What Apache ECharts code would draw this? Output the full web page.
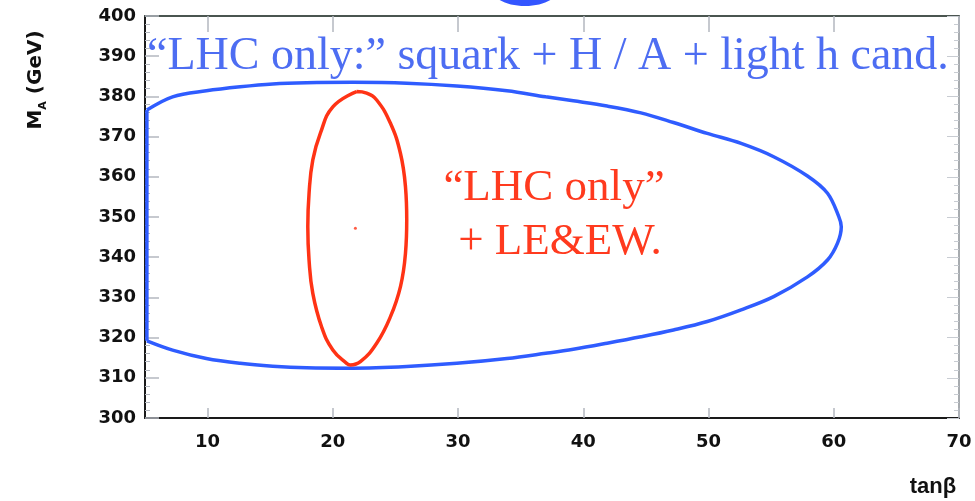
<!DOCTYPE html>
<html>
<head>
<meta charset="utf-8">
<script src="https://cdn.jsdelivr.net/npm/echarts@6/dist/echarts.min.js"></script>
<style>html,body{margin:0;padding:0;background:#fff}#c{width:975px;height:501px}</style>
</head>
<body>
<div id="c"></div>
<script>
// tick labels
var xTicks = [10, 20, 30, 40, 50, 60, 70];
// "LHC only:" squark + H/A + light h candidate contour  [tanβ, M_A] (open curve)
var lhcContour = [
  [5.15,376.6],[7.2,379.9],[9.9,381.4],[12.6,382.4],[15.2,383.1],[17.9,383.4],[21.6,383.5],
  [25.9,383.3],[29.9,382.6],[33.9,381.4],[37.0,379.9],[39.2,378.9],[41.9,377.6],[44.6,375.9],
  [47.2,373.5],[49.9,370.8],[52.6,368.3],[55.2,365.0],[57.9,360.2],[59.5,355.9],[60.4,350.1],
  [60.6,347.6],[60.3,343.5],[59.5,339.3],[57.9,335.1],[55.2,330.2],[52.6,326.9],[49.9,324.0],
  [47.2,321.9],[44.6,320.2],[41.9,318.6],[39.2,317.1],[37.0,316.1],[33.9,314.8],[29.9,313.6],
  [25.9,312.8],[21.6,312.4],[17.9,312.5],[15.2,312.9],[12.6,313.6],[9.9,314.8],[7.2,316.9],
  [5.15,319.2]
];
// part of that contour lying on the tanβ = 5 edge
var lhcEdge = [[5.15,319.2],[5.15,376.6]];
// "LHC only" + LE&EW contour  [tanβ, M_A]
var lhcEwContour = [
  [21.9,381.2],[20.0,377.4],[19.0,370.8],[18.4,364.2],[18.1,355.9],[18.0,347.6],[18.1,339.3],
  [18.4,331.0],[19.1,322.7],[20.0,316.9],[21.1,313.6],[21.4,313.2],[22.2,314.0],[23.5,318.6],
  [24.6,325.2],[25.4,332.7],[25.8,341.0],[25.9,349.3],[25.8,357.5],[25.4,365.8],[24.6,373.3],
  [23.5,379.1],[22.7,380.8],[21.9,381.2]
];
var bestFit = [[21.8, 347.2]];

var chart = echarts.init(document.getElementById('c'), null, {renderer: 'canvas'});
var tickGrey = '#b4b8c0';
var labelFont = {fontFamily: 'DejaVu Sans', fontWeight: 'bold', fontSize: 18, color: '#111'};
chart.setOption({
  backgroundColor: '#fff',
  animation: false,
  grid: {left: 145, right: 16, top: 16, bottom: 83},
  xAxis: [{
    type: 'value', min: 5, max: 70, position: 'bottom',
    axisLine: {show: true, lineStyle: {color: '#1a1a1a', width: 2}},
    axisTick: {show: true, inside: true, length: 10, customValues: xTicks, lineStyle: {color: tickGrey, width: 1.5}},
    axisLabel: Object.assign({show: true, margin: 15, customValues: xTicks}, labelFont),
    splitLine: {show: false}
  }, {
    type: 'value', min: 5, max: 70, position: 'top',
    axisLine: {show: true, lineStyle: {color: '#4a5550', width: 2}},
    axisTick: {show: true, inside: true, length: 16, customValues: xTicks, lineStyle: {color: tickGrey, width: 1.5}},
    axisLabel: {show: false},
    splitLine: {show: false}
  }],
  yAxis: [{
    type: 'value', min: 300, max: 400, interval: 10, position: 'left',
    axisLine: {show: true, lineStyle: {color: '#1a1a1a', width: 2}},
    axisTick: {show: true, inside: true, length: 14, lineStyle: {color: tickGrey, width: 1.5}},
    minorTick: {show: true, splitNumber: 5, length: 5, lineStyle: {color: tickGrey, width: 1}},
    axisLabel: Object.assign({show: true, margin: 9}, labelFont),
    splitLine: {show: false}
  }, {
    type: 'value', min: 300, max: 400, interval: 10, position: 'right',
    axisLine: {show: true, lineStyle: {color: '#8a8f94', width: 1.5}},
    axisTick: {show: true, inside: true, length: 12, lineStyle: {color: '#c8ccd2', width: 1}},
    minorTick: {show: true, splitNumber: 5, length: 5, lineStyle: {color: '#c8ccd2', width: 1}},
    axisLabel: {show: false},
    splitLine: {show: false}
  }],
  series: [{
    name: 'LHC only', type: 'line', data: lhcContour, xAxisIndex: 0, yAxisIndex: 0,
    showSymbol: false, smooth: 0.35, clip: false,
    lineStyle: {color: '#2f5cff', width: 3.5}
  }, {
    name: 'LHC only edge', type: 'line', data: lhcEdge, xAxisIndex: 0, yAxisIndex: 0,
    showSymbol: false, clip: false,
    lineStyle: {color: '#2f5cff', width: 3.5}
  }, {
    name: 'LHC only + LE&EW', type: 'line', data: lhcEwContour, xAxisIndex: 0, yAxisIndex: 0,
    showSymbol: false, smooth: 0.45,
    lineStyle: {color: '#ff3315', width: 3.5}
  }, {
    name: 'best fit', type: 'scatter', data: bestFit, symbolSize: 3,
    itemStyle: {color: '#ff3315'}
  }],
  graphic: [
    {type: 'ellipse', shape: {cx: 525, cy: -12, rx: 34, ry: 18}, style: {fill: '#3355ff'}, silent: true},
    {type: 'text', x: 147, y: 57, style: {
      text: '\u201cLHC only:\u201d squark + H / A + light h cand.',
      font: '46px "Liberation Serif"', fill: '#4d6df2', textAlign: 'left', textVerticalAlign: 'middle'}},
    {type: 'text', x: 554, y: 188, style: {
      text: '\u201cLHC only\u201d', font: '45px "Liberation Serif"', fill: '#ff3a1e',
      textAlign: 'center', textVerticalAlign: 'middle'}},
    {type: 'text', x: 560, y: 242, style: {
      text: '+ LE&EW.', font: '45px "Liberation Serif"', fill: '#ff3a1e',
      textAlign: 'center', textVerticalAlign: 'middle'}},
    {type: 'text', x: 36, y: 80, rotation: Math.PI / 2, style: {
      text: '{a|M}{b|A}{a| (GeV)}', textAlign: 'center', textVerticalAlign: 'middle',
      rich: {
        a: {fontFamily: 'DejaVu Sans', fontWeight: 'bold', fontSize: 20, fill: '#111', lineHeight: 26, verticalAlign: 'middle'},
        b: {fontFamily: 'DejaVu Sans', fontWeight: 'bold', fontSize: 11, fill: '#111', lineHeight: 26, verticalAlign: 'bottom'}
      }}},
    {type: 'text', x: 933, y: 487, style: {
      text: 'tan\u03b2', font: 'bold 22px "Liberation Sans"', fill: '#111',
      textAlign: 'center', textVerticalAlign: 'middle'}}
  ]
});
</script>
</body>
</html>
